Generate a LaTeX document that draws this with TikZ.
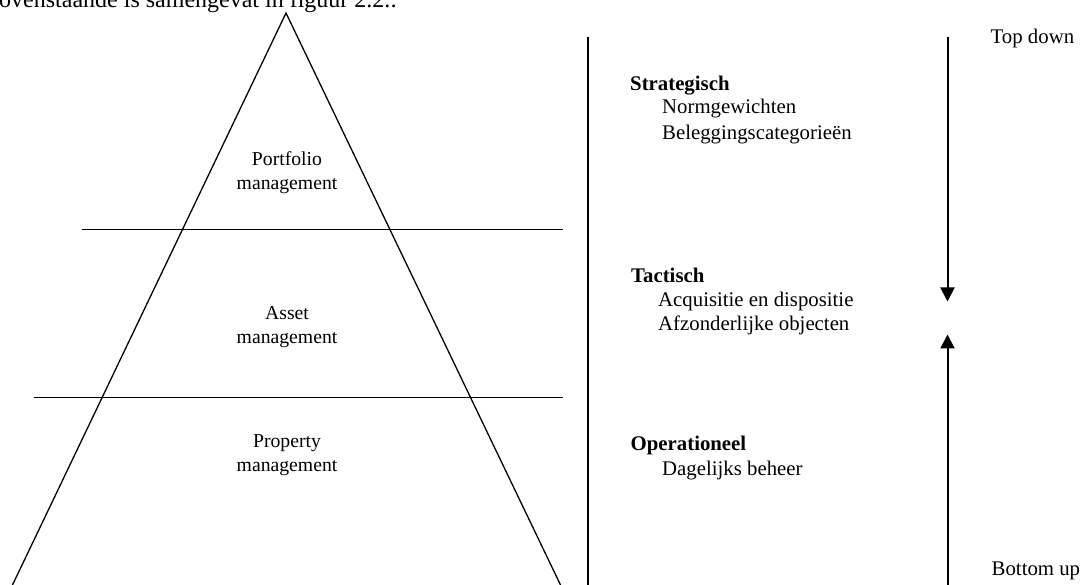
\documentclass[tikz,border=0pt]{standalone}
\usepackage{fontspec}
\setmainfont{Liberation Serif}
\usetikzlibrary{arrows.meta}
\tikzset{
  thinline/.style={line width=1.3pt, line cap=butt},
  sepline/.style={line width=2pt},
  flowarrow/.style={line width=2pt, -{Triangle[width=14pt,length=14pt]}},
  pyrlabel/.style={inner sep=0pt, align=center, font=\fontsize{19.7}{24}\selectfont},
  sidetext/.style={inner sep=0pt, anchor=base west, font=\fontsize{20.8}{24}\selectfont},
  sidehead/.style={inner sep=0pt, anchor=base west, font=\fontsize{20.8}{24}\selectfont\bfseries},
}
\begin{document}
\begin{tikzpicture}[x=1pt,y=-1pt]
\useasboundingbox (0,0) rectangle (1082,585);
\clip (0,0) rectangle (1082,585);
% cut-off running text at the top
\node[inner sep=0pt, anchor=base west, font=\fontsize{24}{28}\selectfont] (toptext) at (-1,8) {ovenstaande is samengevat in figuur 2.2.:};
% pyramid
\coordinate (apex) at (286,13);
\coordinate (bl) at (12,586);
\coordinate (br) at (561,586);
\draw[thinline] (bl) -- (apex) -- (br);
\coordinate (l1a) at (82,229.7);
\coordinate (l1b) at (563.3,229.7);
\coordinate (l2a) at (34,397.5);
\coordinate (l2b) at (563.3,397.5);
\draw[thinline] (l1a) -- (l1b);
\draw[thinline] (l2a) -- (l2b);
\node[pyrlabel] (portfolio) at (287,173) {Portfolio\\management};
\node[pyrlabel] (asset) at (287,327) {Asset\\management};
\node[pyrlabel] (property) at (287,455) {Property\\management};
% separator
\coordinate (sepT) at (587.5,37);
\coordinate (sepB) at (587.5,586);
\draw[sepline] (sepT) -- (sepB);
% levels
\node[sidehead] (strat) at (630,90.7) {Strategisch};
\node[sidetext] (strat1) at (662,114) {Normgewichten};
\node[sidetext] (strat2) at (662,139.3) {Beleggingscategorieën};
\node[sidehead] (tact) at (631,282.7) {Tactisch};
\node[sidetext] (tact1) at (658,306.5) {Acquisitie en dispositie};
\node[sidetext] (tact2) at (658,330.7) {Afzonderlijke objecten};
\node[sidehead] (oper) at (630.5,450.7) {Operationeel};
\node[sidetext] (oper1) at (662,475) {Dagelijks beheer};
% arrows
\node[sidetext] (topdown) at (990.5,43.3) {Top down};
\node[sidetext] (bottomup) at (991.5,575) {Bottom up};
\coordinate (dT) at (947.5,37);
\coordinate (dB) at (947.5,301.5);
\coordinate (uB) at (947.5,586);
\coordinate (uT) at (947.5,334.5);
\draw[flowarrow] (dT) -- (dB);
\draw[flowarrow] (uB) -- (uT);
\end{tikzpicture}
\end{document}
